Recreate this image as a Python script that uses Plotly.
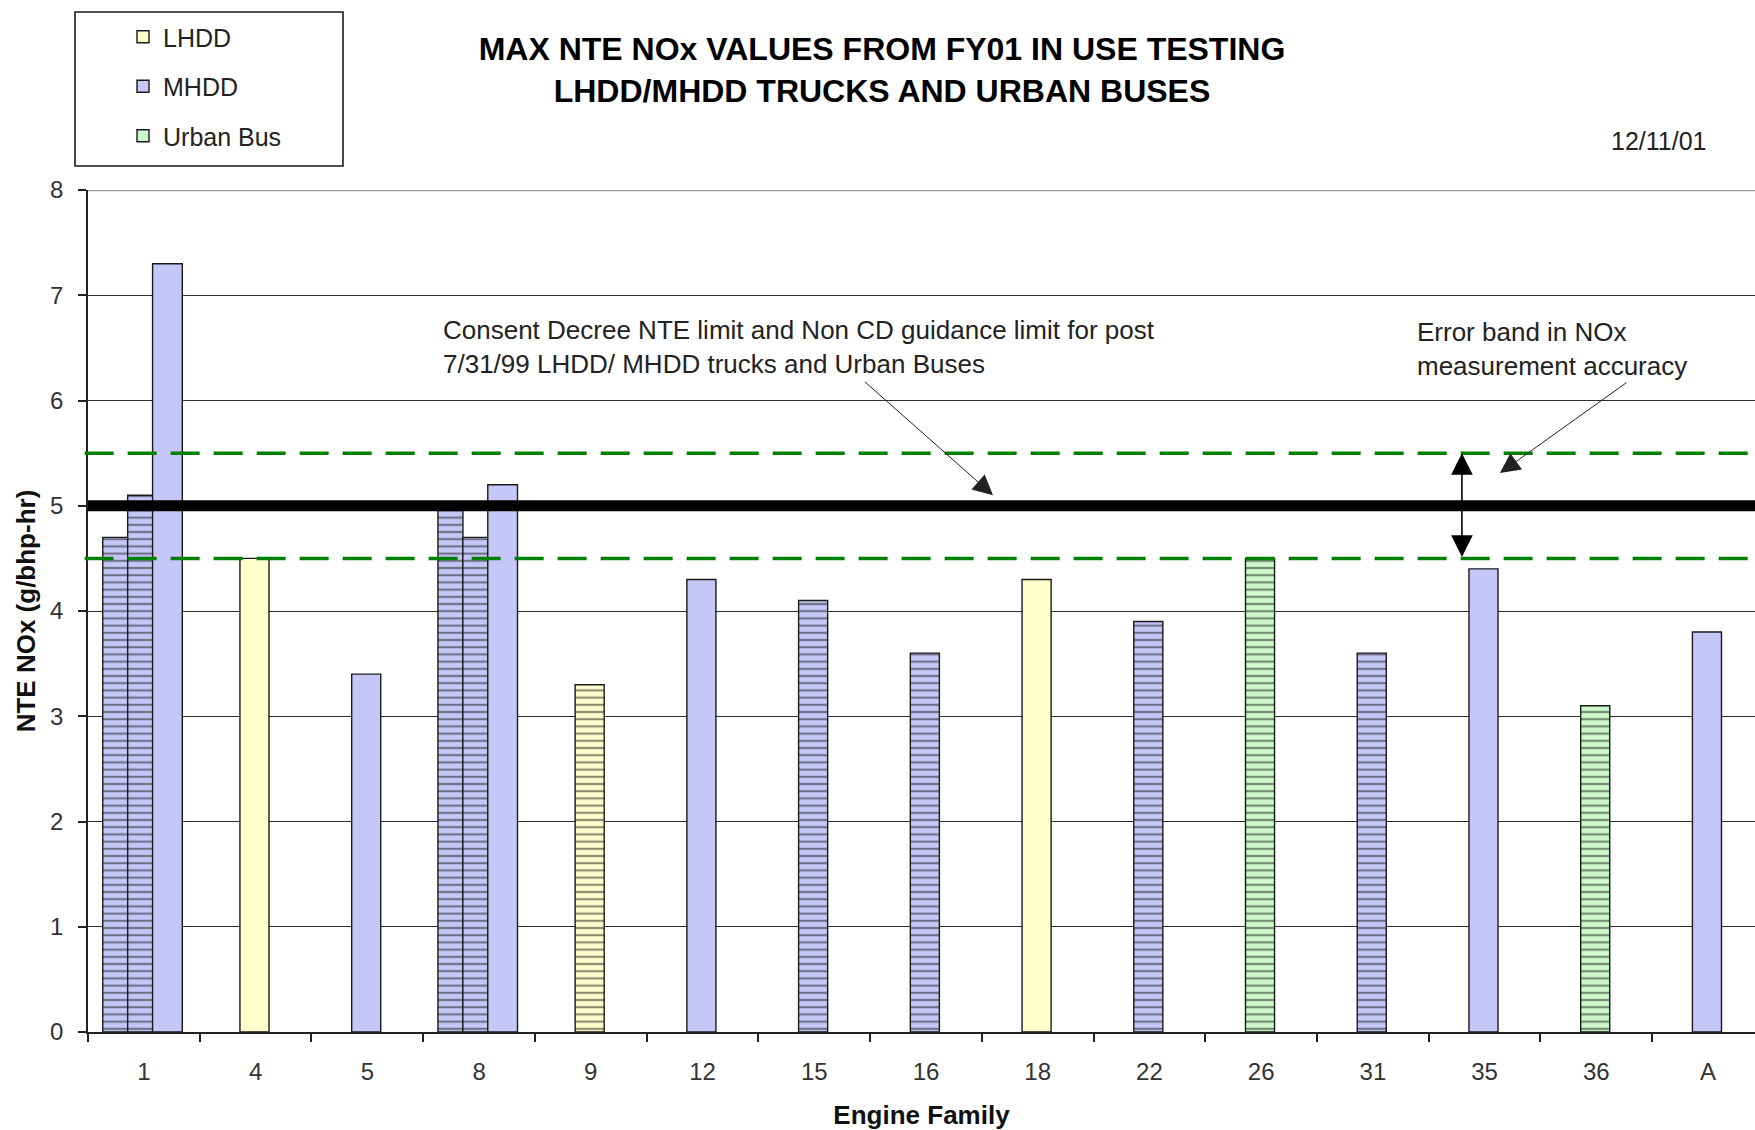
import plotly.graph_objects as go

# Engine families along the x axis
families = ["1", "4", "5", "8", "9", "12", "15", "16", "18", "22", "26", "31", "35", "36", "A"]

# One entry per tested engine: family, vehicle class, striped fill flag, max NTE NOx (g/bhp-hr)
bar_family = ["1", "1", "1", "4", "5", "8", "8", "8", "9", "12", "15", "16", "18", "22",
              "26", "31", "35", "36", "A"]
bar_class = ["MHDD", "MHDD", "MHDD", "LHDD", "MHDD", "MHDD", "MHDD", "MHDD", "LHDD", "MHDD",
             "MHDD", "MHDD", "LHDD", "MHDD", "Urban Bus", "MHDD", "MHDD", "Urban Bus", "MHDD"]
bar_striped = [True, True, False, False, False, True, True, False, True, False,
               True, True, False, True, True, True, False, True, False]
bar_nox = [4.7, 5.1, 7.3, 4.5, 3.4, 5.0, 4.7, 5.2, 3.3, 4.3,
           4.1, 3.6, 4.3, 3.9, 4.5, 3.6, 4.4, 3.1, 3.8]

classes = ["LHDD", "MHDD", "Urban Bus"]

nte_limit = 5.0        # consent decree NTE limit
error_band = 0.5       # NOx measurement accuracy band
y_ticks = [0, 1, 2, 3, 4, 5, 6, 7, 8]

# ---- styling -------------------------------------------------------------
FONT = "Liberation Sans, Arial, Helvetica, sans-serif"
W, H = 1755, 1130
M = dict(l=88, r=0, t=190, b=98)
class_fill = {"LHDD": "#FFFFCC", "MHDD": "#C6C6F8", "Urban Bus": "#CCF8CC"}
OUTLINE = dict(color="#1a1a1a", width=1.4)

# bar slots inside a family, in category units relative to the family centre
slot_offset = {1: [-0.14], 3: [-0.368, -0.145, 0.078]}
slot_width = {1: [0.26], 3: [0.224, 0.224, 0.266]}


def paper_x(px):
    return (px - M["l"]) / (W - M["l"] - M["r"])


def paper_y(py):
    return (H - M["b"] - py) / (H - M["t"] - M["b"])


# position of each bar within its family group
counts = {f: bar_family.count(f) for f in families}
seen = {f: 0 for f in families}
bar_off, bar_w = [], []
for f in bar_family:
    k = seen[f]
    seen[f] += 1
    bar_off.append(slot_offset[counts[f]][k])
    bar_w.append(slot_width[counts[f]][k])

fig = go.Figure()

for cls in classes:
    idx = [i for i, c in enumerate(bar_class) if c == cls]
    fig.add_trace(go.Bar(
        x=[bar_family[i] for i in idx],
        y=[bar_nox[i] for i in idx],
        offset=[bar_off[i] for i in idx],
        width=[bar_w[i] for i in idx],
        name=cls,
        showlegend=False,
        marker=dict(
            color=class_fill[cls],
            line=OUTLINE,
            pattern=dict(
                shape=["-" if bar_striped[i] else "" for i in idx],
                size=7.2, solidity=0.3, fgcolor="#1a1a1a", fillmode="overlay",
            ),
        ),
    ))

# legend keys (plain swatches)
for cls in classes:
    fig.add_trace(go.Bar(
        x=[None], y=[None], name=cls, legendgroup=cls,
        marker=dict(color=class_fill[cls], line=OUTLINE),
    ))

# reference lines: NTE limit and measurement error band
shapes = [
    dict(type="line", xref="x domain", yref="y", x0=0, x1=1, y0=8, y1=8,
         line=dict(color="#9a9a9a", width=2.5), layer="above"),
    dict(type="line", xref="x domain", yref="y", x0=-0.002, x1=1,
         y0=nte_limit + error_band, y1=nte_limit + error_band,
         line=dict(color="#008000", width=3.5, dash="29px,14px"), layer="above"),
    dict(type="line", xref="x domain", yref="y", x0=-0.002, x1=1,
         y0=nte_limit - error_band, y1=nte_limit - error_band,
         line=dict(color="#008000", width=3.5, dash="29px,14px"), layer="above"),
    dict(type="line", xref="x domain", yref="y", x0=0, x1=1, y0=nte_limit, y1=nte_limit,
         line=dict(color="#000000", width=11), layer="above"),
    # legend frame
    dict(type="rect", xref="paper", yref="paper",
         x0=paper_x(75), x1=paper_x(343), y0=paper_y(166), y1=paper_y(12),
         line=dict(color="#1a1a1a", width=1.6), fillcolor="rgba(0,0,0,0)"),
]

annotations = [
    dict(text="Consent Decree NTE limit and Non CD guidance limit for post<br>"
              "7/31/99 LHDD/ MHDD trucks and Urban Buses",
         xref="x", yref="y", x=2.66, y=6.51, xanchor="left", yanchor="middle",
         align="left", showarrow=False, font=dict(size=26, color="#222")),
    dict(text="Error band in NOx<br>measurement accuracy",
         xref="x", yref="y", x=11.38, y=6.49, xanchor="left", yanchor="middle",
         align="left", showarrow=False, font=dict(size=26, color="#222")),
    dict(text="12/11/01", xref="paper", yref="paper", x=paper_x(1708), y=paper_y(141),
         xanchor="right", yanchor="middle", showarrow=False,
         font=dict(size=25, color="#222")),
    # pointer to the limit line
    dict(text="", xref="x", yref="y", axref="x", ayref="y",
         x=7.6, y=nte_limit + 0.1, ax=6.44, ay=6.19,
         showarrow=True, arrowhead=2, arrowsize=4, arrowwidth=1, arrowcolor="#222",
         standoff=0),
    # pointer to the error band
    dict(text="", xref="x", yref="y", axref="x", ayref="y",
         x=12.137, y=nte_limit + 0.31, ax=13.283, ay=6.18,
         showarrow=True, arrowhead=2, arrowsize=4, arrowwidth=1, arrowcolor="#222",
         standoff=0),
    # double-headed span of the error band
    dict(text="", xref="x", yref="y", axref="x", ayref="y",
         x=11.797, y=nte_limit + error_band, ax=11.797, ay=nte_limit - error_band,
         showarrow=True, arrowhead=2, startarrowhead=2, arrowside="end+start",
         arrowsize=2.7, startarrowsize=2.7, arrowwidth=1.6, arrowcolor="#000",
         standoff=0, startstandoff=0),
]

fig.update_layout(
    width=W, height=H,
    margin=dict(l=M["l"], r=M["r"], t=M["t"], b=M["b"], autoexpand=False),
    paper_bgcolor="white", plot_bgcolor="white",
    barmode="overlay",
    font=dict(family=FONT, color="#222", size=24),
    title=dict(
        text="<b>MAX NTE NOx VALUES FROM FY01 IN USE TESTING<br>LHDD/MHDD TRUCKS AND URBAN BUSES</b>",
        xref="container", yref="container", x=882 / W, y=1 - 60 / H,
        xanchor="center", yanchor="middle",
        font=dict(size=32, color="#000", family=FONT),
    ),
    legend=dict(
        x=paper_x(123), y=paper_y(14), xanchor="left", yanchor="top",
        orientation="v", traceorder="grouped", tracegroupgap=14,
        font=dict(size=25, color="#222"),
        bgcolor="rgba(0,0,0,0)", borderwidth=0,
    ),
    xaxis=dict(
        type="category", categoryorder="array", categoryarray=families,
        range=[-0.5, 14.42], tickson="boundaries",
        ticks="outside", ticklen=8, tickwidth=1.5, tickcolor="#222",
        showline=True, linecolor="#222", linewidth=1.6,
        showgrid=False, zeroline=False,
        tickfont=dict(size=24, color="#333"), ticklabelstandoff=17,
        title=dict(text="<b>Engine Family</b>", font=dict(size=26, color="#111"), standoff=22),
    ),
    yaxis=dict(
        range=[0, 8], tickvals=y_ticks, ticks="outside", ticklen=8, tickwidth=1.5,
        tickcolor="#222", showline=True, linecolor="#222", linewidth=1.6,
        showgrid=True, gridcolor="#2e2e2e", gridwidth=1.3, zeroline=False,
        tickfont=dict(size=24, color="#333"), ticklabelstandoff=10,
        title=dict(text="<b>NTE NOx (g/bhp-hr)</b>", font=dict(size=26, color="#111"), standoff=7),
    ),
    shapes=shapes,
    annotations=annotations,
)

fig.write_html("out.html")
